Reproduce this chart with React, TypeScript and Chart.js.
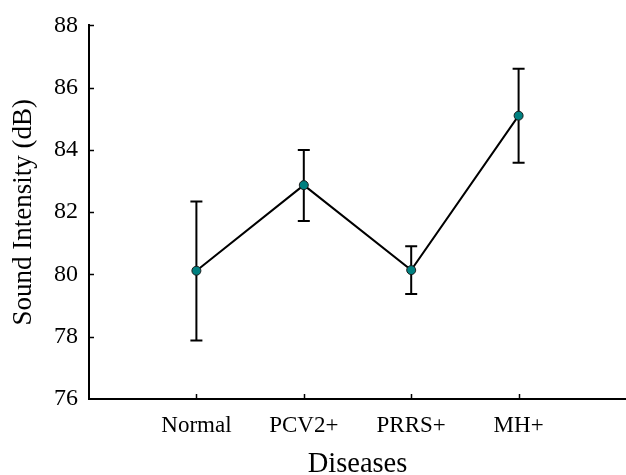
import React, { useEffect, useRef } from 'react';
import { Chart, registerables } from 'chart.js';

Chart.register(...registerables);

const categories = ['Normal', 'PCV2+', 'PRRS+', 'MH+'];
const means = [80.12, 82.87, 80.14, 85.1];
const upper = [82.34, 84.0, 80.91, 86.61];
const lower = [77.88, 81.72, 79.37, 83.59];
const yTicks = [76, 78, 80, 82, 84, 86, 88];

const FONT = "'Liberation Serif', 'Times New Roman', serif";

const errorBarPlugin = {
  id: 'errorBars',
  beforeDatasetsDraw(chart: any) {
    const { ctx, scales } = chart;
    const xs = scales.x;
    const ys = scales.y;
    ctx.save();
    ctx.strokeStyle = '#000';
    ctx.lineWidth = 2;
    categories.forEach((_, i) => {
      const x = xs.getPixelForValue(i + 1);
      const yt = ys.getPixelForValue(upper[i]);
      const yb = ys.getPixelForValue(lower[i]);
      ctx.beginPath();
      ctx.moveTo(x, yt);
      ctx.lineTo(x, yb);
      ctx.moveTo(x - 6, yt);
      ctx.lineTo(x + 6, yt);
      ctx.moveTo(x - 6, yb);
      ctx.lineTo(x + 6, yb);
      ctx.stroke();
    });
    ctx.restore();
  },
  afterDraw(chart: any) {
    const { ctx, scales } = chart;
    const xs = scales.x;
    const ys = scales.y;
    ctx.save();
    ctx.strokeStyle = '#000';
    ctx.lineWidth = 1.5;
    const yb = ys.getPixelForValue(76);
    const xl = xs.getPixelForValue(0);
    categories.forEach((_, i) => {
      const x = Math.round(xs.getPixelForValue(i + 1)) + 0.5;
      ctx.beginPath();
      ctx.moveTo(x, yb);
      ctx.lineTo(x, yb - 5);
      ctx.stroke();
    });
    yTicks.slice(1).forEach((v) => {
      const y = Math.round(ys.getPixelForValue(v)) + 0.5;
      ctx.beginPath();
      ctx.moveTo(xl, y);
      ctx.lineTo(xl + 5, y);
      ctx.stroke();
    });
    ctx.restore();
  },
};

export default function App() {
  const ref = useRef<HTMLCanvasElement>(null);
  useEffect(() => {
    document.body.style.margin = '0';
    const chart = new Chart(ref.current as HTMLCanvasElement, {
      type: 'line',
      data: {
        datasets: [
          {
            data: means.map((m, i) => ({ x: i + 1, y: m })),
            borderColor: '#000',
            borderWidth: 2,
            pointRadius: 4.5,
            pointBackgroundColor: '#008080',
            pointBorderColor: '#1a1a1a',
            pointBorderWidth: 1,
            fill: false,
            tension: 0,
          },
        ],
      },
      options: {
        animation: false,
        responsive: false,
        layout: { autoPadding: false, padding: { top: 23, right: 0, left: 0, bottom: 0 } },
        plugins: { legend: { display: false }, tooltip: { enabled: false } },
        scales: {
          x: {
            type: 'linear',
            min: 0,
            max: 5,
            afterBuildTicks(axis: any) {
              axis.ticks = categories.map((_, i) => ({ value: i + 1 }));
            },
            afterFit(axis: any) {
              axis.height = 76;
            },
            grid: { display: false, drawTicks: false },
            border: { color: '#000', width: 2 },
            ticks: {
              color: '#000',
              padding: 13,
              font: { family: FONT, size: 23 },
              callback: (v: any) => categories[Number(v) - 1] ?? '',
              maxRotation: 0,
              autoSkip: false,
            },
            title: {
              display: true,
              text: 'Diseases',
              color: '#000',
              font: { family: FONT, size: 28.5, lineHeight: 1 },
              padding: { top: 0, bottom: -4 },
            },
          },
          y: {
            min: 76,
            max: 88,
            afterBuildTicks(axis: any) {
              axis.ticks = yTicks.map((v) => ({ value: v }));
            },
            afterFit(axis: any) {
              axis.width = 89;
            },
            grid: { display: false, drawTicks: false },
            border: { color: '#000', width: 2 },
            ticks: {
              color: '#000',
              padding: 11,
              font: { family: FONT, size: 24 },
            },
            title: {
              display: true,
              text: 'Sound Intensity (dB)',
              color: '#000',
              font: { family: FONT, size: 27, lineHeight: 1 },
              padding: { top: 10, bottom: 0 },
            },
          },
        },
      },
      plugins: [errorBarPlugin],
    });
    return () => chart.destroy();
  }, []);
  return <canvas ref={ref} width={626} height={475} style={{ display: 'block' }} />;
}
